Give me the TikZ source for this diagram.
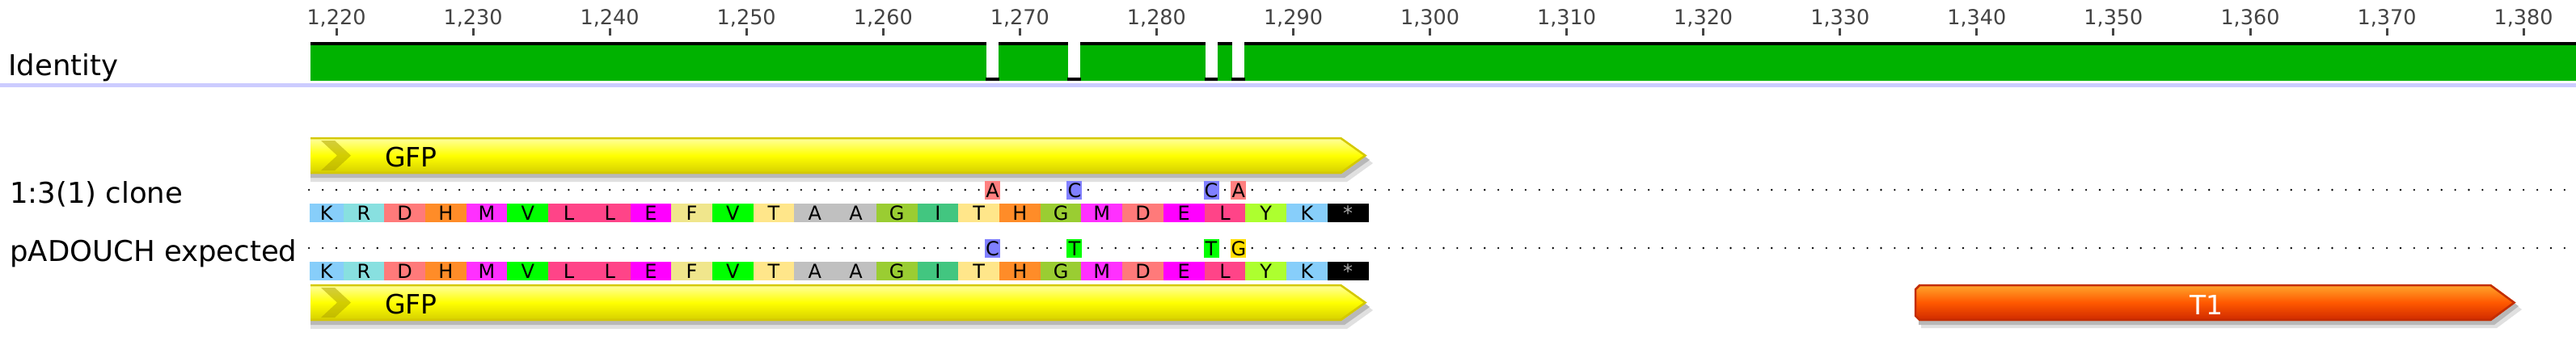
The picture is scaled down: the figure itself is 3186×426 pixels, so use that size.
\documentclass[tikz,border=0pt]{standalone}
\usepackage{fontspec}
\setmainfont{DejaVu Sans}
\definecolor{aaK}{RGB}{135,206,250}
\definecolor{aaR}{RGB}{136,224,224}
\definecolor{aaD}{RGB}{255,122,122}
\definecolor{aaH}{RGB}{255,140,40}
\definecolor{aaM}{RGB}{255,48,255}
\definecolor{aaV}{RGB}{0,255,0}
\definecolor{aaL}{RGB}{255,68,136}
\definecolor{aaE}{RGB}{255,0,255}
\definecolor{aaF}{RGB}{240,230,140}
\definecolor{aaT}{RGB}{255,230,138}
\definecolor{aaA}{RGB}{192,192,192}
\definecolor{aaG}{RGB}{154,205,50}
\definecolor{aaI}{RGB}{66,198,128}
\definecolor{aaY}{RGB}{173,255,47}
\definecolor{aaStop}{RGB}{0,0,0}
\definecolor{starGray}{RGB}{170,170,170}
\definecolor{mmA}{RGB}{255,128,128}
\definecolor{mmC}{RGB}{128,128,255}
\definecolor{mmT}{RGB}{0,255,0}
\definecolor{mmG}{RGB}{255,222,0}
\definecolor{idGreen}{RGB}{0,178,0}
\definecolor{lavender}{RGB}{204,204,255}
\definecolor{rulerGray}{RGB}{68,68,68}
\definecolor{gfpTop}{RGB}{255,255,165}
\definecolor{gfpMid}{RGB}{255,255,0}
\definecolor{gfpBot}{RGB}{212,206,0}
\definecolor{gfpBorder}{RGB}{212,200,0}
\definecolor{chevCol}{RGB}{175,165,0}
\definecolor{tTop}{RGB}{255,168,45}
\definecolor{tMid}{RGB}{255,88,0}
\definecolor{tBot}{RGB}{205,40,0}
\definecolor{tBorder}{RGB}{195,45,0}
\begin{document}
\begin{tikzpicture}[x=1pt,y=-1pt,
  lbl/.style={font=\fontsize{35.5}{40}\selectfont, inner sep=0, anchor=base west},
  rulernum/.style={font=\fontsize{25.5}{28}\selectfont, text=rulerGray, inner sep=0, anchor=base},
  aatext/.style={font=\fontsize{24}{26}\selectfont, inner sep=0, anchor=base},
  feat/.style={font=\fontsize{33}{36}\selectfont, inner sep=0, anchor=base},
  shadowA/.style={fill=black!12},
  shadowB/.style={fill=black!28}]
\useasboundingbox (0,0) rectangle (3186,426);
\fill[white] (0,0) rectangle (3186,426);

% ---------------- ruler ----------------
\foreach \p in {1220,1230,...,1380}{
  \pgfmathsetmacro{\xx}{416+(\p-1220)*16.907}
  \pgfmathtruncatemacro{\th}{\p/1000}
  \pgfmathtruncatemacro{\rest}{\p-1000*\th}
  \fill[rulerGray] (\xx-1.5,35) rectangle (\xx+1.5,44);
  \node[rulernum] (r\p) at (\xx,30) {\th,\rest};
}

% ---------------- identity ----------------
\node[lbl] (identity) at (10,93) {Identity};
\fill[black] (384,52) rectangle (3186,56);
\fill[idGreen] (384,56) rectangle (3186,99.5);
\foreach \p in {1268,1274,1284,1286}{
  \pgfmathsetmacro{\xx}{416+(\p-1220)*16.907}
  \fill[white] (\xx-7.5,51) rectangle (\xx+7.5,100);
  \fill[black] (\xx-8.5,96) rectangle (\xx+8,100);
}
\fill[lavender] (0,103) rectangle (3186,108);

% ---------------- GFP arrows ----------------
\foreach \yo/\nm in {0/gfpA,182/gfpB}{
\begin{scope}[shift={(0,\yo)}]
  \fill[shadowA] (384,178) -- (1666,178) -- (1698,202) -- (1666,225) -- (384,225) -- cycle;
  \fill[shadowB] (384,175) -- (1663,175) -- (1694,198) -- (1663,220) -- (384,220) -- cycle;
  \shade[top color=gfpTop, bottom color=gfpBot, middle color=gfpMid]
    (384,170) -- (1659,170) -- (1690,192.5) -- (1659,215) -- (384,215) -- cycle;
  \draw[gfpBorder, line width=2.5pt, line join=miter]
    (384,171.2) -- (1658.5,171.2) -- (1688.5,192.5) -- (1658.5,213.8) -- (384,213.8);
  \fill[chevCol, opacity=0.55] (397,174) -- (414,174) -- (434,192.5) -- (414,211) -- (397,211) -- (417,192.5) -- cycle;
  \node[feat, anchor=base west] (\nm) at (476,206.5) {GFP};
\end{scope}
}

% ---------------- T1 arrow ----------------
\fill[shadowA] (2376,360) -- (3088,360) -- (3119,383) -- (3088,406) -- (2376,406) -- cycle;
\fill[shadowB] (2373,357) -- (3085,357) -- (3115,379) -- (3085,402) -- (2373,402) -- cycle;
\shade[top color=tTop, bottom color=tBot, middle color=tMid]
  (2374,352) -- (3081,352) -- (3111,374.5) -- (3081,397) -- (2374,397) -- (2368,391) -- (2368,358) -- cycle;
\draw[tBorder, line width=2.5pt, line join=miter]
  (2374,353.2) -- (3080.5,353.2) -- (3109.5,374.5) -- (3080.5,395.8) -- (2374,395.8) -- (2369.2,391) -- (2369.2,358) -- cycle;
\node[feat, text=white] (t1) at (2729,389) {T1};

% ---------------- row labels ----------------
\node[lbl] (clone) at (12,251) {1:3(1) clone};
\node[lbl] (expected) at (12,323) {pADOUCH expected};

% ---------------- dots ----------------
\foreach \yy in {235,307}{
  \foreach \p in {1218,...,1383}{
    \ifnum\p=1268 \else\ifnum\p=1274 \else\ifnum\p=1284 \else\ifnum\p=1286 \else
      \fill[black] ({416+(\p-1220)*16.907},\yy) circle [radius=1.3pt];
    \fi\fi\fi\fi
  }
}

% ---------------- mismatches ----------------
\foreach \p/\b/\c [count=\k] in {1268/A/mmA,1274/C/mmC,1284/C/mmC,1286/A/mmA}{
  \pgfmathsetmacro{\xx}{416+(\p-1220)*16.907}
  \fill[\c] (\xx-9.5,224) rectangle (\xx+9.5,247);
  \node[aatext] (mA\k) at (\xx,244) {\b};
}
\foreach \p/\b/\c [count=\k] in {1268/C/mmC,1274/T/mmT,1284/T/mmT,1286/G/mmG}{
  \pgfmathsetmacro{\xx}{416+(\p-1220)*16.907}
  \fill[\c] (\xx-9.5,296) rectangle (\xx+9.5,319);
  \node[aatext] (mB\k) at (\xx,316) {\b};
}

% ---------------- translations ----------------
\foreach \yt/\rw in {252/a,324/b}{
  \foreach \aa/\col/\tc [count=\i from 0] in {K/aaK/black,R/aaR/black,D/aaD/black,H/aaH/black,M/aaM/black,V/aaV/black,L/aaL/black,L/aaL/black,E/aaE/black,F/aaF/black,V/aaV/black,T/aaT/black,A/aaA/black,A/aaA/black,G/aaG/black,I/aaI/black,T/aaT/black,H/aaH/black,G/aaG/black,M/aaM/black,D/aaD/black,E/aaE/black,L/aaL/black,Y/aaY/black,K/aaK/black,*/aaStop/starGray}{
    \ifnum\i=0 \def\xl{383}\else\pgfmathsetmacro{\xl}{424.5+(\i-1)*50.72}\fi
    \pgfmathsetmacro{\xr}{424.5+\i*50.72}
    \fill[\col] (\xl,\yt) rectangle (\xr,\yt+23);
    \node[aatext, text=\tc] (aa\rw\i) at ({(\xl+\xr)/2},\yt+20) {\aa};
  }
}
\end{tikzpicture}
\end{document}
